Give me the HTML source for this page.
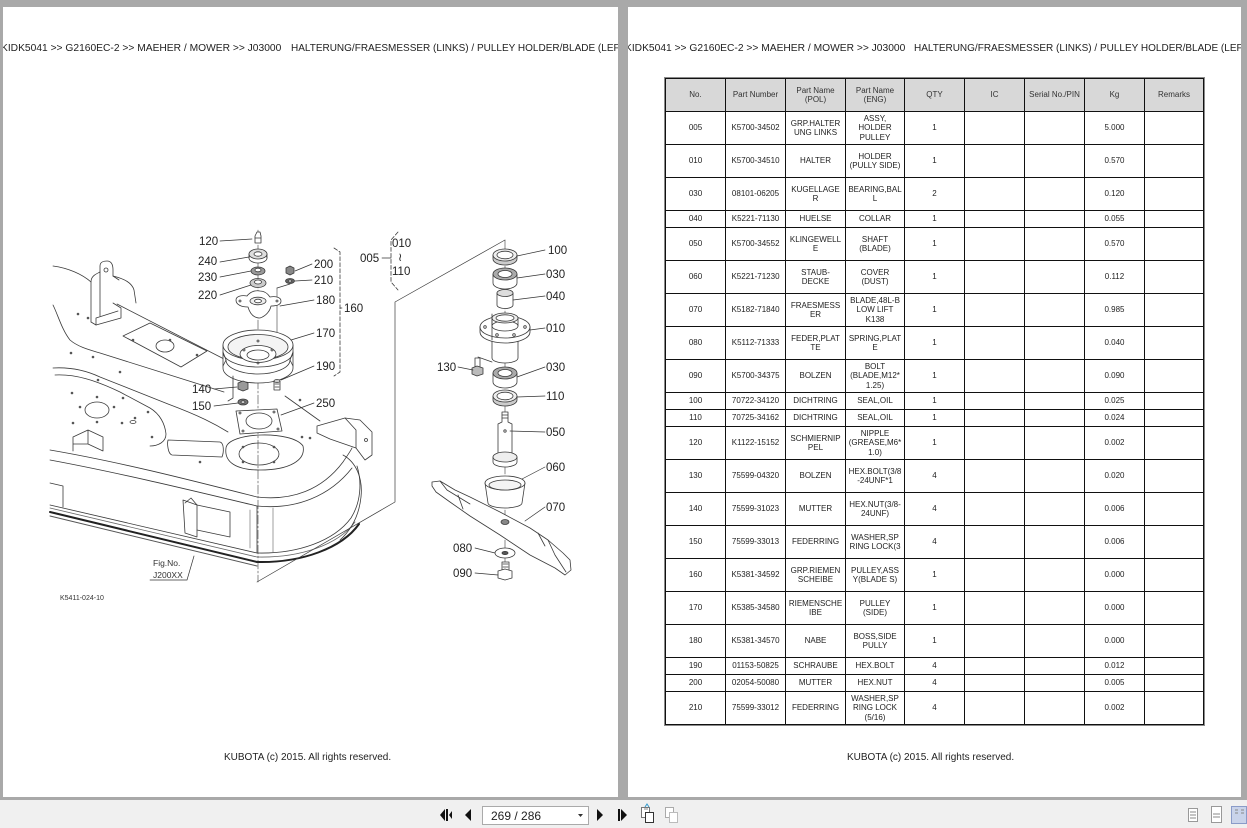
<!DOCTYPE html>
<html><head><meta charset="utf-8">
<style>
*{margin:0;padding:0;box-sizing:border-box}
html,body{width:1247px;height:828px;overflow:hidden}
body{background:#a9a9a9;position:relative;font-family:"Liberation Sans",Arial,sans-serif;color:#222}
.page{position:absolute;top:7px;height:790px;background:#fff;overflow:hidden}
.hdr{position:absolute;top:36px;font-size:10px;line-height:12px;white-space:nowrap;color:#222}
.hdr.a{font-size:10.25px}
.foot{position:absolute;top:745px;font-size:10px;line-height:12px;white-space:nowrap;color:#222}
.tbl{position:absolute;left:665px;top:78px;display:grid;background:#111;gap:1px;padding:1px;outline:1px solid #8a8a8a;
grid-template-columns:59px 59px 59px 58px 59px 59px 59px 59px 58px;
grid-template-rows:32px 32px 32px 32px 16px 32px 32px 32px 32px 32px 16px 16px 32px 32px 32px 32px 32px 32px 32px 16px 16px 32px}
.tbl div{background:#fff;display:flex;align-items:center;justify-content:center;text-align:center;font-size:8px;line-height:9.5px;color:#222;overflow:hidden}
.tbl div.h{background:#d8d8d8;color:#333}
.tb{position:absolute;left:0;top:800px;width:1247px;height:28px;background:#f0f0f0}
</style></head>
<body>

<div class="page" style="left:3px;width:615px">
  <div class="hdr a" style="left:-2px">KIDK5041 &gt;&gt; G2160EC-2 &gt;&gt; MAEHER / MOWER &gt;&gt; J03000</div>
  <div class="hdr" style="left:288px">HALTERUNG/FRAESMESSER (LINKS) / PULLEY HOLDER/BLADE (LEFT)</div>
  <div class="foot" style="left:221px">KUBOTA (c) 2015. All rights reserved.</div>
</div>

<div class="page" style="left:628px;width:613px">
  <div class="hdr a" style="left:-3px">KIDK5041 &gt;&gt; G2160EC-2 &gt;&gt; MAEHER / MOWER &gt;&gt; J03000</div>
  <div class="hdr" style="left:286px">HALTERUNG/FRAESMESSER (LINKS) / PULLEY HOLDER/BLADE (LEFT)</div>
  <div class="foot" style="left:219px">KUBOTA (c) 2015. All rights reserved.</div>
</div>

<div class="tbl">
<div class="h">No.</div><div class="h">Part Number</div><div class="h">Part Name<br>(POL)</div><div class="h">Part Name<br>(ENG)</div><div class="h">QTY</div><div class="h">IC</div><div class="h">Serial No./PIN</div><div class="h">Kg</div><div class="h">Remarks</div>
<div>005</div><div>K5700-34502</div><div>GRP.HALTER<br>UNG LINKS</div><div>ASSY,<br>HOLDER<br>PULLEY</div><div>1</div><div></div><div></div><div>5.000</div><div></div>
<div>010</div><div>K5700-34510</div><div>HALTER</div><div>HOLDER<br>(PULLY SIDE)</div><div>1</div><div></div><div></div><div>0.570</div><div></div>
<div>030</div><div>08101-06205</div><div>KUGELLAGE<br>R</div><div>BEARING,BAL<br>L</div><div>2</div><div></div><div></div><div>0.120</div><div></div>
<div>040</div><div>K5221-71130</div><div>HUELSE</div><div>COLLAR</div><div>1</div><div></div><div></div><div>0.055</div><div></div>
<div>050</div><div>K5700-34552</div><div>KLINGEWELL<br>E</div><div>SHAFT<br>(BLADE)</div><div>1</div><div></div><div></div><div>0.570</div><div></div>
<div>060</div><div>K5221-71230</div><div>STAUB-<br>DECKE</div><div>COVER<br>(DUST)</div><div>1</div><div></div><div></div><div>0.112</div><div></div>
<div>070</div><div>K5182-71840</div><div>FRAESMESS<br>ER</div><div>BLADE,48L-B<br>LOW LIFT<br>K138</div><div>1</div><div></div><div></div><div>0.985</div><div></div>
<div>080</div><div>K5112-71333</div><div>FEDER,PLAT<br>TE</div><div>SPRING,PLAT<br>E</div><div>1</div><div></div><div></div><div>0.040</div><div></div>
<div>090</div><div>K5700-34375</div><div>BOLZEN</div><div>BOLT<br>(BLADE,M12*<br>1.25)</div><div>1</div><div></div><div></div><div>0.090</div><div></div>
<div>100</div><div>70722-34120</div><div>DICHTRING</div><div>SEAL,OIL</div><div>1</div><div></div><div></div><div>0.025</div><div></div>
<div>110</div><div>70725-34162</div><div>DICHTRING</div><div>SEAL,OIL</div><div>1</div><div></div><div></div><div>0.024</div><div></div>
<div>120</div><div>K1122-15152</div><div>SCHMIERNIP<br>PEL</div><div>NIPPLE<br>(GREASE,M6*<br>1.0)</div><div>1</div><div></div><div></div><div>0.002</div><div></div>
<div>130</div><div>75599-04320</div><div>BOLZEN</div><div>HEX.BOLT(3/8<br>-24UNF*1</div><div>4</div><div></div><div></div><div>0.020</div><div></div>
<div>140</div><div>75599-31023</div><div>MUTTER</div><div>HEX.NUT(3/8-<br>24UNF)</div><div>4</div><div></div><div></div><div>0.006</div><div></div>
<div>150</div><div>75599-33013</div><div>FEDERRING</div><div>WASHER,SP<br>RING LOCK(3</div><div>4</div><div></div><div></div><div>0.006</div><div></div>
<div>160</div><div>K5381-34592</div><div>GRP.RIEMEN<br>SCHEIBE</div><div>PULLEY,ASS<br>Y(BLADE S)</div><div>1</div><div></div><div></div><div>0.000</div><div></div>
<div>170</div><div>K5385-34580</div><div>RIEMENSCHE<br>IBE</div><div>PULLEY<br>(SIDE)</div><div>1</div><div></div><div></div><div>0.000</div><div></div>
<div>180</div><div>K5381-34570</div><div>NABE</div><div>BOSS,SIDE<br>PULLY</div><div>1</div><div></div><div></div><div>0.000</div><div></div>
<div>190</div><div>01153-50825</div><div>SCHRAUBE</div><div>HEX.BOLT</div><div>4</div><div></div><div></div><div>0.012</div><div></div>
<div>200</div><div>02054-50080</div><div>MUTTER</div><div>HEX.NUT</div><div>4</div><div></div><div></div><div>0.005</div><div></div>
<div>210</div><div>75599-33012</div><div>FEDERRING</div><div>WASHER,SP<br>RING LOCK<br>(5/16)</div><div>4</div><div></div><div></div><div>0.002</div><div></div>
</div>

<svg style="position:absolute;left:0;top:0" width="620" height="798" viewBox="0 0 620 798">
<g fill="none" stroke="#3a3a3a" stroke-width="0.8" stroke-linejoin="round" stroke-linecap="round">
 <!-- deck: upper left -->
 <path d="M53,266 C68,268 82,274 91,282"/>
 <path d="M91,322 L91,282 C91,276 96,274 100,272 L100,266 C100,262 104,261 107,261 C111,261 113,264 113,270 L113,276 L119,280"/>
 <path d="M91,322 L96,325 L121,318 L121,308 L113,303"/>
 <path d="M96,325 L96,318 L118,311"/>
 <path d="M100,272 L100,316"/>
 <circle cx="106" cy="270" r="2"/>
 <path d="M113,276 C125,279 132,283 134,290 L136,303"/>
 <path d="M117,304 L226,360"/>
 <path d="M53,305 C58,315 62,330 70,340 C78,347 90,350 100,353 L224,392"/>
 <path d="M53,368 C70,367 85,370 100,377 L168,404 C200,416 215,424 228,432"/>
 <path d="M55,375 C75,374 95,380 120,392 L150,408 C160,414 165,424 166,434 C166,442 158,446 150,446"/>
 <path d="M123,336 L150,323 L207,351 L181,367 Z"/>
 <ellipse cx="165" cy="346" rx="9" ry="6"/>
 <ellipse cx="97" cy="410" rx="12" ry="8"/>
 <path d="M73,437 L88,430 L103,437 L103,451 M73,437 L73,451 M88,430 L88,444 M73,444 L88,444 L103,451"/>
 <path d="M168,440 L220,442 C224,443 224,452 222,457 L172,455 C168,454 167,444 168,440 Z"/>
 <ellipse cx="133" cy="422" rx="3" ry="1.5"/>
 <!-- deck opening under spindle -->
 <path d="M226,448 C228,432 292,430 303,446 C306,460 290,470 260,470 C236,470 224,462 226,448 Z"/>
 <ellipse cx="259" cy="454" rx="20" ry="11"/>
 <!-- deck skirt -->
 <path d="M50,450 C120,462 190,480 257,497 C292,501 322,490 343,462 C347,456 350,452 352,448"/>
 <path d="M50,460 C120,473 190,490 257,506 C296,510 330,496 352,468"/>
 <path d="M50,505 L257,553 C298,554 334,541 351,518 C361,502 362,482 357,466"/>
 <path d="M50,508 L257,557 C300,558 338,545 355,522" stroke="#666"/>
 <path d="M50,512 L257,562 C302,563 342,548 359,524" stroke="#222" stroke-width="2"/>
 <path d="M50,516 L257,566" stroke="#555" stroke-width="1"/>
 <path d="M257,506 L257,553"/>
 <path d="M250,510 L250,548 M273,508 L273,552" stroke="#888"/>
 <path d="M50,483 L63,486 L63,507"/>
 <!-- hitch -->
 <path d="M183,500 L197,505 L197,537 L185,533 Z"/>
 <path d="M197,505 L230,512 L230,537 L197,530"/>
 <path d="M185,503 L191,498 L197,505"/>
 <!-- right lug -->
 <path d="M317,426 L345,418 L360,420 L372,432 L372,455 L365,460 L356,448 L330,439 L317,433 Z"/>
 <path d="M345,418 L356,430 L356,448"/>
 <circle cx="366" cy="440" r="1.5"/>
 <path d="M343,455 C356,462 363,478 361,497 C359,516 351,530 340,540"/>
 <path d="M285,396 L320,421"/>
 <!-- holes -->
 <g fill="#555" stroke="none">
  <circle cx="78" cy="314" r="1.3"/><circle cx="88" cy="318" r="1.3"/><circle cx="71" cy="353" r="1.3"/>
  <circle cx="93" cy="357" r="1.3"/><circle cx="120" cy="372" r="1.3"/><circle cx="98" cy="380" r="1.3"/>
  <circle cx="72" cy="393" r="1.3"/><circle cx="123" cy="398" r="1.3"/><circle cx="73" cy="423" r="1.3"/>
  <circle cx="122" cy="423" r="1.3"/><circle cx="135" cy="418" r="1.3"/><circle cx="148" cy="412" r="1.3"/>
  <circle cx="170" cy="340" r="1.3"/><circle cx="197" cy="355" r="1.3"/><circle cx="133" cy="340" r="1.3"/>
  <circle cx="152" cy="437" r="1.3"/><circle cx="200" cy="462" r="1.3"/><circle cx="302" cy="437" r="1.3"/>
  <circle cx="243" cy="447" r="1.3"/><circle cx="274" cy="447" r="1.3"/><circle cx="243" cy="462" r="1.3"/><circle cx="274" cy="462" r="1.3"/>
  <circle cx="300" cy="400" r="1.3"/><circle cx="310" cy="438" r="1.3"/>
  <circle cx="80" cy="407" r="1.3"/><circle cx="114" cy="407" r="1.3"/><circle cx="97" cy="397" r="1.3"/><circle cx="97" cy="422" r="1.3"/>
 </g>

 <!-- left spindle axis -->
 <path d="M258,230 L258,582" stroke-width="0.6" stroke-dasharray="9 2 2 2"/>
 <path d="M277,288 L277,380" stroke-width="0.6"/>
 <path d="M277,288 L290,284"/>
 <!-- 120 nipple -->
 <path d="M255,243 L255,236 L257,232 L260,232 L261,236 L261,243 Z" fill="#fff"/>
 <path d="M255,238 L261,238" />
 <!-- 240 -->
 <ellipse cx="258" cy="258" rx="9" ry="5" fill="#fff"/>
 <path d="M249,258 L249,254 M267,258 L267,254"/>
 <ellipse cx="258" cy="254" rx="9" ry="5" fill="#ddd"/>
 <ellipse cx="258" cy="254" rx="4" ry="2.2" fill="#fff"/>
 <!-- 230 -->
 <ellipse cx="258" cy="271" rx="7" ry="4" fill="#999"/>
 <ellipse cx="258" cy="270" rx="3" ry="1.8" fill="#fff"/>
 <!-- 220 -->
 <ellipse cx="258" cy="283" rx="8" ry="4.5" fill="#ccc"/>
 <ellipse cx="258" cy="282" rx="3.5" ry="2" fill="#fff"/>
 <!-- 180 boss -->
 <path d="M236,300 C236,296 242,295 247,296 C250,292 255,290 260,291 C265,291 268,294 270,297 C275,296 281,297 281,301 C281,305 276,306 271,306 C270,311 266,316 260,318 C254,318 250,314 248,307 C242,307 236,305 236,300 Z" fill="#fff"/>
 <ellipse cx="258" cy="301" rx="8" ry="3.8" fill="#eee"/>
 <ellipse cx="258" cy="301" rx="3.5" ry="1.8" fill="#fff"/>
 <circle cx="240" cy="301" r="1"/><circle cx="277" cy="301" r="1"/>
 <!-- 200 / 210 -->
 <path d="M286,268 L290,266 L294,268 L294,273 L290,275 L286,273 Z" fill="#888"/>
 <ellipse cx="290" cy="281" rx="4.5" ry="2.5" fill="#666"/>
 <ellipse cx="290" cy="281" rx="1.8" ry="1" fill="#fff"/>
 <!-- 170 pulley -->
 <path d="M223,345 L223,368 A35,15 0 0 0 293,368 L293,345" fill="#fff"/>
 <path d="M223,352 A35,15 0 0 0 293,352"/>
 <path d="M226,360 A32,14 0 0 0 290,360"/>
 <path d="M223,352 L226,360 L223,366 M293,352 L290,360 L293,366"/>
 <ellipse cx="258" cy="345" rx="35" ry="15" fill="#fff"/>
 <ellipse cx="258" cy="347" rx="30" ry="12.5" fill="#f4f4f4"/>
 <ellipse cx="258" cy="354" rx="18" ry="8.5" fill="#fff"/>
 <ellipse cx="258" cy="355" rx="11" ry="5" fill="#fff"/>
 <circle cx="258" cy="341" r="1"/><circle cx="244" cy="350" r="1"/><circle cx="272" cy="350" r="1"/><circle cx="258" cy="363" r="1"/>
 <!-- 190 bolt -->
 <path d="M274,381 L274,390 L280,390 L280,381" fill="#fff"/>
 <ellipse cx="277" cy="381" rx="3" ry="1.5" fill="#ccc"/>
 <path d="M275,384 L279,384 M275,387 L279,387"/>
 <!-- 140 nut / 150 washer -->
 <path d="M238,383 L243,381 L248,383 L248,389 L243,391 L238,389 Z" fill="#999"/>
 <ellipse cx="243" cy="402" rx="5" ry="3" fill="#777"/>
 <ellipse cx="243" cy="402" rx="2" ry="1.2" fill="#fff"/>
 <path d="M233,376 L233,398 L228,401"/>
 <!-- 250 plate -->
 <path d="M236,411 L277,409 L282,431 L240,434 Z" fill="#fff"/>
 <ellipse cx="259" cy="421" rx="13" ry="8"/>
 <circle cx="240" cy="413" r="1"/><circle cx="274" cy="412" r="1"/><circle cx="243" cy="431" r="1"/><circle cx="278" cy="429" r="1"/>
 <!-- 160 bracket -->
 <path d="M334,248 L340,252 L340,372 L334,376" stroke-dasharray="4 2"/>
 <!-- 005 bracket -->
 <path d="M398,232 L391,240 L391,282 L398,290" stroke-dasharray="4 2"/>
 <!-- frame -->
 <path d="M505,240 L395,302 L395,502 L257,582" stroke-width="0.7"/>

 <!-- right spindle -->
 <path d="M505,240 L505,578" stroke-width="0.6" stroke-dasharray="9 2 2 2"/>
 <!-- 100 -->
 <path d="M493,255 L493,259 A12,6 0 0 0 517,259 L517,255" fill="#ccc"/>
 <ellipse cx="505" cy="255" rx="12" ry="6" fill="#eee"/>
 <ellipse cx="505" cy="255" rx="8" ry="3.8" fill="#fff"/>
 <!-- 030 upper -->
 <path d="M493,274 L493,283 A12,6 0 0 0 517,283 L517,274" fill="#fff"/>
 <ellipse cx="505" cy="274" rx="12" ry="6" fill="#aaa"/>
 <ellipse cx="505" cy="274" rx="7" ry="3.5" fill="#fff"/>
 <!-- 040 collar -->
 <path d="M497,293 L497,305 A8,3.5 0 0 0 513,305 L513,293" fill="#fff"/>
 <ellipse cx="505" cy="293" rx="8" ry="3.5" fill="#ddd"/>
 <!-- 010 holder -->
 <path d="M492,334 L492,358 A13,5 0 0 0 518,358 L518,334" fill="#fff"/>
 <path d="M480,327 L480,332 A25,11 0 0 0 530,332 L530,327" fill="#fff"/>
 <ellipse cx="505" cy="327" rx="25" ry="11" fill="#fff"/>
 <path d="M492,326 L492,318 M518,326 L518,318"/>
 <ellipse cx="505" cy="326" rx="13" ry="5" fill="#fff"/>
 <ellipse cx="505" cy="318" rx="13" ry="5" fill="#eee"/>
 <ellipse cx="505" cy="318" rx="9" ry="3.2" fill="#fff"/>
 <circle cx="485" cy="327" r="1.3"/><circle cx="525" cy="327" r="1.3"/><circle cx="497" cy="335" r="1.3"/><circle cx="514" cy="335" r="1.3"/>
 <path d="M492,314 L492,340"/>
 <path d="M478,357 L492,362"/>
 <!-- 130 bolt -->
 <path d="M475,358 L475,368 L480,368 L480,358 Z" fill="#fff"/>
 <path d="M472,368 L477,366 L483,368 L483,374 L477,376 L472,374 Z" fill="#bbb"/>
 <!-- 030 lower -->
 <path d="M493,373 L493,382 A12,6 0 0 0 517,382 L517,373" fill="#fff"/>
 <ellipse cx="505" cy="373" rx="12" ry="6" fill="#aaa"/>
 <ellipse cx="505" cy="373" rx="7" ry="3.5" fill="#fff"/>
 <!-- 110 -->
 <path d="M493,396 L493,400 A12,6 0 0 0 517,400 L517,396" fill="#ccc"/>
 <ellipse cx="505" cy="396" rx="12" ry="6" fill="#eee"/>
 <ellipse cx="505" cy="396" rx="8" ry="3.8" fill="#fff"/>
 <!-- 050 shaft -->
 <path d="M502,412 L502,422 L498,424 L498,454 L512,454 L512,424 L508,422 L508,412 Z" fill="#fff"/>
 <path d="M502,415 L508,415 M502,418 L508,418"/>
 <circle cx="505" cy="431" r="1.2"/>
 <path d="M493,457 L493,462 A12,5 0 0 0 517,462 L517,457" fill="#fff"/>
 <ellipse cx="505" cy="457" rx="12" ry="5" fill="#eee"/>
 <!-- 060 cover -->
 <path d="M485,483 L488,503 A17,5 0 0 0 522,503 L525,483" fill="#fff"/>
 <ellipse cx="505" cy="483" rx="20" ry="7" fill="#fff"/>
 <ellipse cx="505" cy="485" rx="16" ry="5" fill="#f4f4f4"/>
 <!-- 070 blade -->
 <path d="M432,482 L440,481 L455,490 L470,497 L500,512 L530,528 L548,540 L563,553 L570,560 L571,570 L565,575 L555,568 L530,555 L500,535 L470,516 L450,502 L436,492 L432,486 Z" fill="#fff"/>
 <path d="M440,481 L447,490 L470,504 M458,495 L463,509 M538,533 L545,546 M548,540 L555,555 L566,572"/>
 <ellipse cx="505" cy="522" rx="4" ry="2.5" fill="#888"/>
 <!-- 080 washer -->
 <ellipse cx="505" cy="553" rx="10" ry="5" fill="#fff"/>
 <ellipse cx="505" cy="553" rx="3" ry="1.6" fill="#555"/>
 <!-- 090 bolt -->
 <path d="M502,562 L502,571 L509,571 L509,562 Z" fill="#fff"/>
 <path d="M503,564 L508,564 M503,567 L508,567"/>
 <path d="M498,571 L505,569 L512,571 L512,578 L505,580 L498,578 Z" fill="#fff"/>

 <!-- leaders -->
 <g stroke="#333" stroke-width="0.7">
  <path d="M220,241 L252,239"/><path d="M220,262 L249,257"/><path d="M220,277 L251,271"/><path d="M220,295 L251,285"/>
  <path d="M312,264 L295,271"/><path d="M312,280 L295,281"/><path d="M314,300 L280,306"/><path d="M314,333 L291,340"/>
  <path d="M314,366 L281,380"/><path d="M214,389 L237,387"/><path d="M214,406 L238,403"/><path d="M314,403 L281,415"/>
  <path d="M382,258 L391,258"/><path d="M342,308 L340,308"/>
  <path d="M545,250 L517,256"/><path d="M545,274 L517,278"/><path d="M545,296 L513,300"/><path d="M545,328 L530,330"/>
  <path d="M458,367 L473,370"/><path d="M545,367 L517,377"/><path d="M545,396 L517,397"/><path d="M545,432 L510,431"/>
  <path d="M545,467 L522,479"/><path d="M545,507 L525,521"/><path d="M475,548 L495,553"/><path d="M475,573 L498,575"/>
  <path d="M150,580 L187,580 L194,556"/>
 </g>
</g>
<g font-family="Liberation Sans, Arial, sans-serif" font-size="11.5" fill="#222">
 <text x="199" y="245">120</text><text x="198" y="265">240</text><text x="198" y="281">230</text><text x="198" y="299">220</text>
 <text x="314" y="268">200</text><text x="314" y="284">210</text><text x="316" y="304">180</text><text x="344" y="312">160</text>
 <text x="316" y="337">170</text><text x="316" y="370">190</text><text x="192" y="393">140</text><text x="192" y="410">150</text>
 <text x="316" y="407">250</text><text x="360" y="262">005</text><text x="392" y="247">010</text><text x="398" y="261">≀</text><text x="392" y="275">110</text>
 <text x="548" y="254">100</text><text x="546" y="278">030</text><text x="546" y="300">040</text><text x="546" y="332">010</text>
 <text x="437" y="371">130</text><text x="546" y="371">030</text><text x="546" y="400">110</text><text x="546" y="436">050</text>
 <text x="546" y="471">060</text><text x="546" y="511">070</text><text x="453" y="552">080</text><text x="453" y="577">090</text>
</g>
<g font-family="Liberation Sans, Arial, sans-serif" fill="#333">
 <text x="153" y="566" font-size="8.5">Fig.No.</text>
 <text x="153" y="578" font-size="8.5">J200XX</text>
 <text x="60" y="600" font-size="7">K5411-024-10</text>
</g>
</svg>

<div class="tb"></div>
<svg style="position:absolute;left:0;top:800px" width="1247" height="28" viewBox="0 0 1247 28">
 <g fill="#111">
  <path d="M440,15 L445,9 L445,21 Z"/><rect x="446" y="9" width="2" height="12"/><path d="M449,15 L452,11 L452,19 Z"/>
  <path d="M465,15 L471,9 L471,21 Z"/>
  <path d="M597,9 L603,15 L597,21 Z"/>
  <rect x="618" y="9" width="2" height="12"/><path d="M621,9 L627,15 L621,21 Z"/>
 </g>
 <rect x="482.5" y="6.5" width="106" height="18" fill="#fff" stroke="#aaa"/>
 <text x="491" y="20" font-family="Liberation Sans, Arial, sans-serif" font-size="12" fill="#222">269 / 286</text>
 <path d="M578,14 L583,14 L580.5,17 Z" fill="#333"/>
 <g stroke="#777" fill="#fff" stroke-width="1">
  <rect x="641.5" y="7.5" width="8" height="10"/><rect x="645.5" y="12.5" width="8" height="10" fill="#fff" stroke="#333"/>
  <rect x="665.5" y="7.5" width="8" height="10" stroke="#aaa"/><rect x="669.5" y="12.5" width="8" height="10" stroke="#bbb"/>
  <rect x="1188.5" y="8.5" width="9" height="13" stroke="#999"/>
  <rect x="1211.5" y="6.5" width="10" height="16" stroke="#999"/>
  <rect x="1231.5" y="6.5" width="15" height="17" fill="#c9d3ea" stroke="#8a9bc8"/>
 </g>
 <path d="M644,9 L648,9 M1190,12 L1196,12 M1190,15 L1196,15 M1190,18 L1196,18 M1213,14 L1220,14 M1213,17 L1220,17 M1235,10 L1238,10 M1235,13 L1238,13 M1241,10 L1244,10 M1241,13 L1244,13" stroke="#888" stroke-width="1"/>
 <path d="M645,7 L647,4 L649,7" stroke="#39c" fill="none"/>
</svg>

</body></html>
